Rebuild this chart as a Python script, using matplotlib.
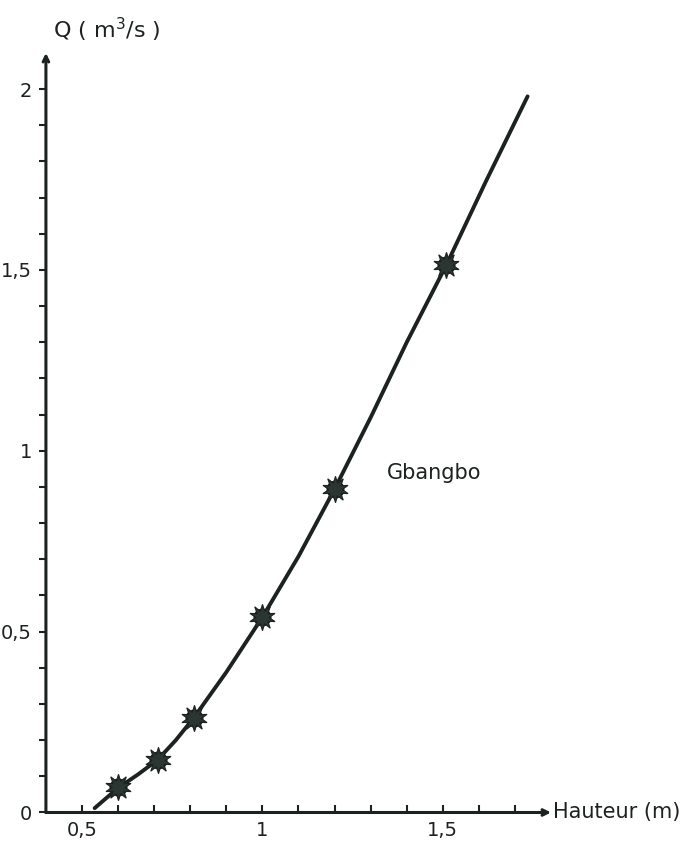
import numpy as np
import matplotlib
matplotlib.use("Agg")
import matplotlib.pyplot as plt

# courbe de tarage - Gbangbo
h_points = [0.6, 0.71, 0.81, 1.0, 1.2, 1.51]
q_points = [0.07, 0.144, 0.262, 0.54, 0.894, 1.514]

# trace de la courbe dessinee a la main
h_curve = [0.535, 0.6, 0.655, 0.71, 0.76, 0.81, 0.9, 1.0, 1.1, 1.2, 1.3, 1.4, 1.51, 1.62, 1.735]
q_curve = [0.012, 0.068, 0.105, 0.146, 0.2, 0.262, 0.388, 0.54, 0.708, 0.894, 1.092, 1.30, 1.514, 1.746, 1.98]

x_ticks = [0.5, 1.0, 1.5]
x_labels = ["0,5", "1", "1,5"]
y_ticks = [0, 0.5, 1.0, 1.5, 2.0]
y_labels = ["0", "0,5", "1", "1,5", "2"]

ink = "#1c2220"
plt.rcParams['font.family'] = ['DejaVu Sans']

fig = plt.figure(figsize=(6.99, 8.49), dpi=100)
ax = fig.add_axes([0.0657, 0.043, 0.7226, 0.8946])
ax.set_xlim(0.4, 1.8)
ax.set_ylim(0, 2.1)

for s in ax.spines.values():
    s.set_visible(False)

# axes avec fleches
ax.annotate("", xy=(1.8, 0), xytext=(0.4, 0),
            arrowprops=dict(arrowstyle="->", lw=2.2, color=ink, shrinkA=0, shrinkB=0),
            annotation_clip=False)
ax.annotate("", xy=(0.4, 2.1), xytext=(0.4, 0),
            arrowprops=dict(arrowstyle="->", lw=2.2, color=ink, shrinkA=0, shrinkB=0),
            annotation_clip=False)

ax.plot(h_curve, q_curve, color=ink, lw=2.8, solid_capstyle="round", zorder=3)
# points de mesure (etoiles "fleurs")
ax.plot(h_points, q_points, linestyle="none", marker="o", markersize=12,
        color="#2b3531", markeredgecolor=ink, zorder=4)
ax.plot(h_points, q_points, linestyle="none", marker=(10, 1, 0), markersize=19,
        color="#2b3531", markeredgecolor=ink, markeredgewidth=0.8, zorder=4)

# graduations
ax.set_xticks(np.arange(0.5, 1.75, 0.1), minor=True)
ax.set_xticks(x_ticks)
ax.set_xticklabels(x_labels, fontsize=14)
ax.tick_params(axis="x", which="both", direction="in", length=5, width=1.5,
               color=ink, pad=6, labelcolor=ink)

ax.set_yticks(np.arange(0.1, 2.0, 0.1), minor=True)
ax.set_yticks(y_ticks)
ax.set_yticklabels(y_labels, fontsize=14)
ax.tick_params(axis="y", which="both", direction="out", length=5, width=1.5,
               color=ink, pad=5, labelcolor=ink)

ax.text(1.805, 0, "Hauteur (m)", fontsize=15, color=ink, va="center", ha="left",
        clip_on=False)
ax.text(0.42, 2.165, r"Q ( m$^3$/s )", fontsize=16, color=ink, va="center", ha="left",
        clip_on=False)
ax.text(1.345, 0.94, "Gbangbo", fontsize=15, color=ink, va="center", ha="left")

fig.savefig("out.png", dpi=100)
